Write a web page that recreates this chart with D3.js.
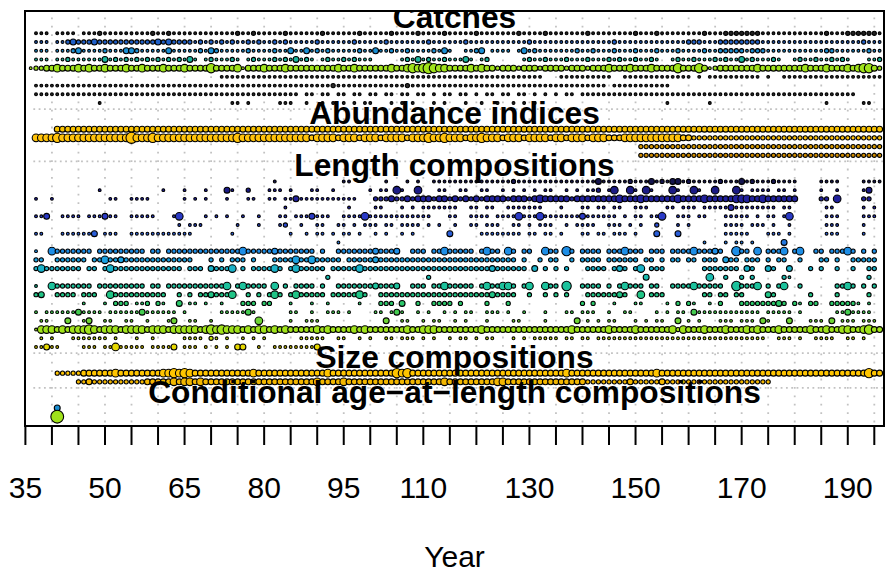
<!DOCTYPE html>
<html><head><meta charset="utf-8">
<script src="https://cdn.jsdelivr.net/npm/d3@7"></script>
<style>body{margin:0;background:#fff}svg{display:block}</style>
</head><body>
<svg id="chart" width="885" height="574"></svg>
<script>
// ---------------- DATA ----------------
// Data types (sections), in plotting order
const typeNames = ["Catches", "Abundance indices", "Length compositions", "Size compositions", "Conditional age\u2212at\u2212length compositions"];
// Each row string = one fleet, one char per year starting at firstYear; '.' = no data, digit = relative bubble size
const firstYear = 36;
const catches = [
".111.1111.|1112111111|1112112111|1111111112|1121111121|1111121111|1121111121|1112111121|1111211111|1121111211|1111121111|1111211121|1111111211|1222222211|1111111111|2111222222|1",
".111.11232|2232222222|2222323222|2121212121|1212112121|1111211111|1211111211|1111121111|1121111111|1111211111|1111111111|2111111111|1111222111|2222222211|1111111111|1111111211|1",
".111.11123|1111211133|2111113111|1121321111|1211112113|1131212111|1121131121|1211112131|..1123.111|1.13121111|1112112111|2111211121|1121111211|2222212221|1111111111|2211111121|1",
".111.11211|1111312121|2121212121|31.1211121|.121112121|3121.12112|12111.....|1213121121|1131.12...|...1211211|1211121112|121121121.|.121121112|1211312111|21..121121|12121...11|2",
"1223343334|3433433343|3433343334|3333533334|1333433343|3333333343|3433333343|3454565443|3334343323|3323332333|3233323334|3334333433|3353335312|3333333433|3333334333|4333434553|2",
"..........|..........|..........|......1111|1111111111|1111111111|1111111111|1111111111|1111111111|1111111...|1111111111|..11111111|11111.1.11|11111111.1|..11111111|1111111111|1",
".111111111|1111111111|1111111111|1111111111|1111111111|1111111211|1111111111|1211111111|1111111111|1111111111|111111111.|1111111111|1.........|..........|..........|..........|.",
".111111111|1111111111|1111111111|1111111111|1111111111|1.11.11.11|.11.11.11.|11.11.1.11|.11.1.11.1|1.11.1.1.1|.11.111111|1111111111|1111111111|1111111111|1111111111|111111....|.",
"..........|...1......|..........|........11|.1.....111|..1..1.1.1|.1.11...1.|1.1...1.1.|..1..1..1.|.1.1.1....|..........|..........|1.......1.|..........|..........|1......11.|."
];
const abundance = [
".....33333|3333333333|3333333333|3333333333|3333333333|3333333333|3333333333|3333333333|3333333333|3333333333|3333333333|3333333333|3333333333|3333333333|3333333333|3333333333|3",
".444454444|4444444446|4445444444|4444444445|4444444444|4443444434|4434443444|4344454454|4434454443|4443444434|4344434443|3344444444|4443322222|2222222222|2222222222|2222222222|2",
"..........|..........|..........|..........|..........|..........|..........|..........|..........|..........|..........|.....22222|2222222222|2222222222|2222222222|2222222222|2",
"..........|..........|..........|..........|..........|..........|..........|..........|..........|..........|..........|.....22222|2222222222|2222222222|2222222222|2222222222|2"
];
const lengthComps = [
"..........|..........|..........|..........|......1...|.........1|1......1..|.1.1..1111|1111111111|1211111111|1111111311|1112111312|1331211111|2111312111|21111....1|111....111|1",
"..........|...1......|.....1...1|...1...31.|.2...111.1|...11..1..|....1.11.4|1..4...11.|.11..11..1|.1.1.1.11.|.1.1.112.1|4..41.41..|.41..41..4|...41.1111|.11.1....1|..1....13.|.",
".1..1.....|.....11..1|111......1|.1.1...1..|.11..11.11|3111111111|11...22232|2323332332|3232323333|2333234333|3323333333|3433343333|3343333433|3334443343|33333....2|2.4....22.|.",
"..........|..........|..........|..........|........1.|..........|1....11...|1.1.111111|1..11.11..|1111111...|1...11.11.|11..111...|11.111.111|1131111111|1.11......|11.....1.1|.",
".113..1111|.111311..1|1111...14.|...1.1.1..|1..1...11.|1113111..1|1114111111|111111...1|1..1111.11|1141114111|1111311111|1.1.11.114|..111.11..|.11111.1.1|1.14......|111....111|.",
"..........|..........|........1.|111......1|...1...12.|.1..11..11|.1.111.11.|1111.1.1..|1..11.111.|.11.1.111.|.1.1111..1|11.1.1..2.|..1.1.....|.1111.111.|1..1......|111....1..|.",
".11...1111|113.111..1|1111111111|1.......1.|.........1|..1.11.1.1|1.1..1.1..|1.1......3|.....11111|111.11.11.|1...11.11.|111.1...3.|..3.......|.11111...1|11.1......|111....1..|.",
"..........|..........|..........|..........|..........|........1.|..........|..........|..........|..........|..........|..........|.......1..|.1.11.1...|..3.......|..........|.",
".1..422222|22.2222222|22.22.2222|2222222222|4222223222|2222.2..22|2222232223|..222.2242|2222.2422.|42.22..422|.52.2222.2|224222.222|.222242223|2..522.4.2|224.24..22|.22242.2.2|.",
".22..22222|2.22422322|2222222222|2...2.2.22|2.2...2222|422422222.|2222232222|2222222222|2222222222|22.2..2.22|..2.2222.2|22222.22.2|.22.22.222|.322.222.2|.22..2...2|2.2..22222|.",
".242222222|.22.242222|222222222.|222.32224.|2.222242.2|422222.222|2242222222|2222222222|2222222322|2222.3.2.2|.2...2222.|232.24.222|.......222|2222.32..3|2..3...2.2|..2..2..22|.",
"..........|..........|..........|..........|..........|......2...|..........|.....2....|..........|..........|..........|......3...|........4.|.2..2.2...|..21......|........2.|.",
".1..422222|22.2222222|22.22.2222|22222224.2|42222.4.2.|2222.2..22|2222232223|..222.2242|2222.24224|42.24..422|.5..2222.2|.24222.22.|.222242222|2..52224.2|.24..2....|..2242.2.2|.",
".23..2222.|222..42222|222222..2.|2.2232224.|.2.2.242.2|422222.222|2242..2222|2222222222|2222222322|22..2..2.2|.2...22222|232..4.222|.......22.|22.22....3|2......2..|..2.....2.|.",
"..........|1...1.222.|112.21..3.|11.1..1...|222.22...1|...1..1...|..1...222.|3..2..2222|.2....2...|2.........|....2.2...|1...11....|1.2.21..1.|2...222222|232.21.22.|.222221.1.|.",
".1.1111113|1111.11111|13111111.1|......1111|131......1|1..1..111.|1....11.13|1..1.1..1.|1.11..111.|1..1...1..|.11.111..1|..11....1.|1.11.31111|11111111.1|1111.1....|..1131111.|.",
"..11...3..|13..11..11|..1...13..|11..1.....|...4.....1|..111.....|.......3..|11..1.11..|1.1...1...|.11....1..|...3.1.1.1|1...1.1.11|..3.1.1...|111.111.31|...3...111|.3.111.111|.",
".144434344|4543444344|4434443444|4434545444|3434434343|3333434333|3434333333|3433444333|3333343333|3333333333|3343333334|3333433333|3424333433|3433343433|3433333433|4334433453|3",
"..1.1...11|11111.1...|1..1.....1|111.21.1..|1.1.1.....|.11111..11|..1.1..11.|111.1.1..1|.11.1.11..|.1.1.11111|.11.11.111|1111111111|1111111111|111111111.|.111.1..11|11..11.1..|.",
".11311....|111.114111|11.11113.1|11.1.1.1.3|3..1..1111|11113.....|..........|..........|..........|..........|..........|..........|..........|..........|..........|..........|."
];
const sizeComps = [
".....22222|3333334333|3333344545|4333333333|3343333333|3333334333|3333333335|4533333333|3333333333|3333333333|3433333333|3333333343|3333333333|3333333333|3333333333|3333333353|3",
".........2|2322222222|2233333434|4343333333|3333333333|3333433334|3333333333|3333333343|3333333344|3333333333|3333322222|2223222223|2222222222|2222222222|..........|..........|."
];
const condAgeAtLength = [
".....3....|..........|..........|..........|..........|..........|..........|..........|..........|..........|..........|..........|..........|..........|..........|..........|.",
".....7....|..........|..........|..........|..........|..........|..........|..........|..........|..........|..........|..........|..........|..........|..........|..........|."
];
// Axis ticks and labels (labels that R dropped for overlap are omitted)
const tickYears = [35,40,45,50,55,60,65,70,75,80,85,90,95,100,105,110,115,120,125,130,135,140,145,150,155,160,165,170,175,180,185,190,195];
const tickLabels = [35,50,65,80,95,110,130,150,170,190];
const xTitle = "Year";

// ---------------- STYLES ----------------
const catchColors = ['#202020','#1f5fc8','#1a8ed2','#1bb49c','#9fe21a','#2a2a2a','#2a2a2a','#2a2a2a','#2a2a2a'];
const abundanceColors = ['#f7c100','#ffc20a','#d99a00','#d08c00'];
const lengthColors = ['#15154f','#1b1b85','#20209c','#2626b0','#2a3ac6','#2b4cd0','#2a5ed8','#2277de','#1e8ee6','#1aa0e0','#1ab2c8','#1bbcb0','#1cc29c','#20c486','#2bc86a','#44cc50','#6ed434','#a0e21a','#c8e010','#e6d800'];
const sizeColors = ['#ffc500','#f2b600'];
const condColors = ['#1a8ed2','#a0e21a'];

// ---------------- DRAW ----------------
const FONT = '"Liberation Sans", Arial, Helvetica, sans-serif';
const svg = d3.select('#chart');
const plot = {left:25, right:884, top:11, bottom:426};
const nYears = 161;
const x = d3.scaleLinear().domain([35,195]).range([25.4,874.3]);
const y = d3.scaleLinear().domain([0,44]).range([33.3,416.7]);
const r = d3.scaleLinear().domain([1,2,7]).range([1.4,2.1,6.4]);

svg.append('rect').attr('width',885).attr('height',574).attr('fill','#fff');
svg.append('defs').append('clipPath').attr('id','clip').append('rect')
  .attr('x',plot.left).attr('y',plot.top).attr('width',plot.right-plot.left).attr('height',plot.bottom-plot.top);

const sections = [catches, abundance, lengthComps, sizeComps, condAgeAtLength];
const sectionColors = [catchColors, abundanceColors, lengthColors, sizeColors, condColors];
const parse = s => s.replace(/\|/g,'').padEnd(nYears,'.').slice(0,nYears);

let rowIdx = 0; const rows = []; const sectionStarts = [];
sections.forEach((sec, si) => {
  if (si > 0) rowIdx += 2;
  sectionStarts.push(rowIdx);
  sec.forEach((s, j) => {
    const pts = [];
    parse(s).split('').forEach((c, i) => { if (c !== '.') pts.push({year:firstYear+i, v:+c}); });
    rows.push({row:rowIdx, color:sectionColors[si][j], pts});
    rowIdx++;
  });
});

const g = svg.append('g').attr('clip-path','url(#clip)');
// vertical dotted grid at ticks
g.selectAll('line.vg').data(tickYears.filter(t => t > 35)).join('line')
  .attr('x1',d=>x(d)).attr('x2',d=>x(d)).attr('y1',plot.top).attr('y2',plot.bottom)
  .attr('stroke','#c2c2c2').attr('stroke-width',1.8)
  .attr('stroke-dasharray','1.8 6.6').attr('stroke-dashoffset',2.0);
// horizontal dotted separators between data types
g.selectAll('line.hg').data(sectionStarts.slice(1)).join('line')
  .attr('x1',x(36.5)).attr('x2',plot.right).attr('y1',d=>y(d-2.3)).attr('y2',d=>y(d-2.3))
  .attr('stroke','#c2c2c2').attr('stroke-width',1.8).attr('stroke-dasharray','1.8 3.5');

// bubbles
const rowG = g.selectAll('g.row').data(rows).join('g').attr('class','row');
rowG.selectAll('circle').data(d => d.pts.map(p => ({...p, row:d.row, color:d.color}))).join('circle')
  .attr('cx', d => x(d.year)).attr('cy', d => y(d.row)).attr('r', d => r(d.v))
  .attr('fill', d => d.color).attr('stroke','#000').attr('stroke-width',1.1);

// section titles
g.selectAll('text.title').data(typeNames).join('text')
  .attr('x', (plot.left+plot.right)/2).attr('y', (d,i) => y(sectionStarts[i]-0.6))
  .attr('text-anchor','middle').attr('font-family',FONT).attr('font-weight','bold')
  .attr('font-size','31.7px').attr('fill','#000').text(d => d);

// frame
svg.append('rect').attr('x',plot.left).attr('y',plot.top)
  .attr('width',plot.right-plot.left).attr('height',plot.bottom-plot.top)
  .attr('fill','none').attr('stroke','#000').attr('stroke-width',2);

// x axis
const ax = svg.append('g');
ax.append('line').attr('x1',x(35)).attr('x2',x(195)).attr('y1',plot.bottom).attr('y2',plot.bottom)
  .attr('stroke','#000').attr('stroke-width',2);
ax.selectAll('line.tick').data(tickYears).join('line')
  .attr('x1',d=>x(d)).attr('x2',d=>x(d)).attr('y1',plot.bottom).attr('y2',plot.bottom+19)
  .attr('stroke','#000').attr('stroke-width',2);
ax.selectAll('text').data(tickLabels).join('text')
  .attr('x',d=>x(d)).attr('y',498).attr('text-anchor','middle')
  .attr('font-family',FONT).attr('font-size','30px').attr('fill','#000').text(d=>d);
svg.append('text').attr('x',(plot.left+plot.right)/2).attr('y',567).attr('text-anchor','middle')
  .attr('font-family',FONT).attr('font-size','30px').attr('fill','#000').text(xTitle);
</script>
</body></html>
